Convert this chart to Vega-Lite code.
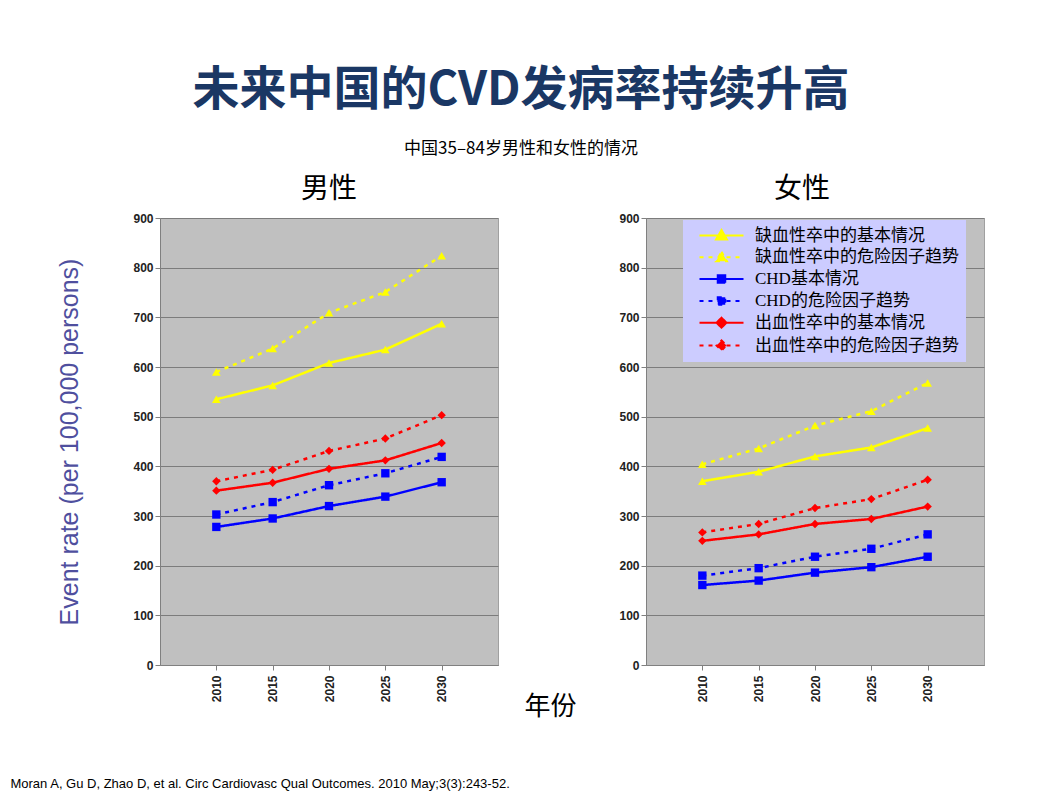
{
  "$schema": "https://vega.github.io/schema/vega-lite/v6.json",
  "background": "white",
  "padding": {"left": 10, "top": 66, "right": 10, "bottom": 2},
  "title": {
    "text": "Moran A, Gu D, Zhao D, et al. Circ Cardiovasc Qual Outcomes. 2010 May;3(3):243-52.",
    "orient": "bottom",
    "anchor": "start",
    "dx": -47,
    "offset": 58,
    "font": "Liberation Sans",
    "fontSize": 13,
    "fontWeight": "normal",
    "color": "#000"
  },
  "datasets": {
    "cvd": [
      {"sex": "男性", "series": "缺血性卒中的基本情况", "year": "2010", "value": 535},
      {"sex": "男性", "series": "缺血性卒中的基本情况", "year": "2015", "value": 563},
      {"sex": "男性", "series": "缺血性卒中的基本情况", "year": "2020", "value": 608},
      {"sex": "男性", "series": "缺血性卒中的基本情况", "year": "2025", "value": 635},
      {"sex": "男性", "series": "缺血性卒中的基本情况", "year": "2030", "value": 687},
      {"sex": "男性", "series": "缺血性卒中的危险因子趋势", "year": "2010", "value": 590},
      {"sex": "男性", "series": "缺血性卒中的危险因子趋势", "year": "2015", "value": 637},
      {"sex": "男性", "series": "缺血性卒中的危险因子趋势", "year": "2020", "value": 709},
      {"sex": "男性", "series": "缺血性卒中的危险因子趋势", "year": "2025", "value": 751},
      {"sex": "男性", "series": "缺血性卒中的危险因子趋势", "year": "2030", "value": 824},
      {"sex": "男性", "series": "CHD基本情况", "year": "2010", "value": 278},
      {"sex": "男性", "series": "CHD基本情况", "year": "2015", "value": 295},
      {"sex": "男性", "series": "CHD基本情况", "year": "2020", "value": 320},
      {"sex": "男性", "series": "CHD基本情况", "year": "2025", "value": 339},
      {"sex": "男性", "series": "CHD基本情况", "year": "2030", "value": 368},
      {"sex": "男性", "series": "CHD的危险因子趋势", "year": "2010", "value": 303},
      {"sex": "男性", "series": "CHD的危险因子趋势", "year": "2015", "value": 328},
      {"sex": "男性", "series": "CHD的危险因子趋势", "year": "2020", "value": 362},
      {"sex": "男性", "series": "CHD的危险因子趋势", "year": "2025", "value": 386},
      {"sex": "男性", "series": "CHD的危险因子趋势", "year": "2030", "value": 419},
      {"sex": "男性", "series": "出血性卒中的基本情况", "year": "2010", "value": 351},
      {"sex": "男性", "series": "出血性卒中的基本情况", "year": "2015", "value": 367},
      {"sex": "男性", "series": "出血性卒中的基本情况", "year": "2020", "value": 395},
      {"sex": "男性", "series": "出血性卒中的基本情况", "year": "2025", "value": 412},
      {"sex": "男性", "series": "出血性卒中的基本情况", "year": "2030", "value": 447},
      {"sex": "男性", "series": "出血性卒中的危险因子趋势", "year": "2010", "value": 370},
      {"sex": "男性", "series": "出血性卒中的危险因子趋势", "year": "2015", "value": 393},
      {"sex": "男性", "series": "出血性卒中的危险因子趋势", "year": "2020", "value": 431},
      {"sex": "男性", "series": "出血性卒中的危险因子趋势", "year": "2025", "value": 456},
      {"sex": "男性", "series": "出血性卒中的危险因子趋势", "year": "2030", "value": 503},
      {"sex": "女性", "series": "缺血性卒中的基本情况", "year": "2010", "value": 370},
      {"sex": "女性", "series": "缺血性卒中的基本情况", "year": "2015", "value": 389},
      {"sex": "女性", "series": "缺血性卒中的基本情况", "year": "2020", "value": 420},
      {"sex": "女性", "series": "缺血性卒中的基本情况", "year": "2025", "value": 438},
      {"sex": "女性", "series": "缺血性卒中的基本情况", "year": "2030", "value": 477},
      {"sex": "女性", "series": "缺血性卒中的危险因子趋势", "year": "2010", "value": 404},
      {"sex": "女性", "series": "缺血性卒中的危险因子趋势", "year": "2015", "value": 436},
      {"sex": "女性", "series": "缺血性卒中的危险因子趋势", "year": "2020", "value": 482},
      {"sex": "女性", "series": "缺血性卒中的危险因子趋势", "year": "2025", "value": 511},
      {"sex": "女性", "series": "缺血性卒中的危险因子趋势", "year": "2030", "value": 568},
      {"sex": "女性", "series": "CHD基本情况", "year": "2010", "value": 161},
      {"sex": "女性", "series": "CHD基本情况", "year": "2015", "value": 170},
      {"sex": "女性", "series": "CHD基本情况", "year": "2020", "value": 186},
      {"sex": "女性", "series": "CHD基本情况", "year": "2025", "value": 197},
      {"sex": "女性", "series": "CHD基本情况", "year": "2030", "value": 218},
      {"sex": "女性", "series": "CHD的危险因子趋势", "year": "2010", "value": 180},
      {"sex": "女性", "series": "CHD的危险因子趋势", "year": "2015", "value": 195},
      {"sex": "女性", "series": "CHD的危险因子趋势", "year": "2020", "value": 218},
      {"sex": "女性", "series": "CHD的危险因子趋势", "year": "2025", "value": 234},
      {"sex": "女性", "series": "CHD的危险因子趋势", "year": "2030", "value": 263},
      {"sex": "女性", "series": "出血性卒中的基本情况", "year": "2010", "value": 250},
      {"sex": "女性", "series": "出血性卒中的基本情况", "year": "2015", "value": 263},
      {"sex": "女性", "series": "出血性卒中的基本情况", "year": "2020", "value": 284},
      {"sex": "女性", "series": "出血性卒中的基本情况", "year": "2025", "value": 294},
      {"sex": "女性", "series": "出血性卒中的基本情况", "year": "2030", "value": 319},
      {"sex": "女性", "series": "出血性卒中的危险因子趋势", "year": "2010", "value": 267},
      {"sex": "女性", "series": "出血性卒中的危险因子趋势", "year": "2015", "value": 284},
      {"sex": "女性", "series": "出血性卒中的危险因子趋势", "year": "2020", "value": 316},
      {"sex": "女性", "series": "出血性卒中的危险因子趋势", "year": "2025", "value": 334},
      {"sex": "女性", "series": "出血性卒中的危险因子趋势", "year": "2030", "value": 373}
    ]
  },
  "vconcat": [
    {
      "title": {
        "text": "未来中国的CVD发病率持续升高",
        "subtitle": "中国35–84岁男性和女性的情况",
        "anchor": "middle",
        "font": "Noto Sans CJK SC",
        "fontSize": 47,
        "fontWeight": "bold",
        "color": "#1a3764",
        "subtitleFont": "Noto Sans CJK SC",
        "subtitleFontSize": 17,
        "subtitleColor": "#000",
        "subtitlePadding": 26,
        "offset": 18
      },
      "bounds": "flush",
      "spacing": 148,
      "resolve": {"scale": {"color": "independent", "shape": "independent", "strokeDash": "independent"}},
      "hconcat": [
        {
          "width": 338,
          "height": 447,
          "title": {"text": "男性", "fontSize": 28, "font": "Noto Sans CJK SC", "fontWeight": "normal", "color": "#000", "offset": 8},
          "data": {"name": "cvd"},
          "transform": [{"filter": {"field": "sex", "equal": "男性"}}],
          "encoding": {
            "x": {
              "field": "year",
              "type": "ordinal",
              "scale": {"type": "point", "padding": 1},
              "axis": {
                "title": "年份",
                "titleX": 390,
                "titleY": 41,
                "titleAlign": "center",
                "titleBaseline": "middle",
                "titleFont": "Noto Sans CJK SC",
                "titleFontSize": 26,
                "titleFontWeight": "normal",
                "titleColor": "#000",
                "labelAngle": -90
              }
            },
            "y": {
              "field": "value",
              "type": "quantitative",
              "scale": {"domain": [0, 900]},
              "axis": {
                "values": [0, 100, 200, 300, 400, 500, 600, 700, 800, 900],
                "title": "Event rate (per 100,000 persons)",
                "titleFont": "Liberation Sans",
                "titleFontSize": 25,
                "titleFontWeight": "normal",
                "titleColor": "#4f4f9e",
                "titlePadding": 50
              }
            },
            "color": {
              "field": "series",
              "type": "nominal",
              "scale": {
                "domain": ["缺血性卒中的基本情况", "缺血性卒中的危险因子趋势", "CHD基本情况", "CHD的危险因子趋势", "出血性卒中的基本情况", "出血性卒中的危险因子趋势"],
                "range": ["#ffff00", "#ffff00", "#0000ff", "#0000ff", "#ff0000", "#ff0000"]
              },
              "legend": null
            }
          },
          "layer": [
            {
              "mark": {"type": "line", "strokeWidth": 2.5},
              "encoding": {
                "strokeDash": {
                  "field": "series",
                  "type": "nominal",
                  "scale": {
                    "domain": ["缺血性卒中的基本情况", "缺血性卒中的危险因子趋势", "CHD基本情况", "CHD的危险因子趋势", "出血性卒中的基本情况", "出血性卒中的危险因子趋势"],
                    "range": [[1, 0], [4, 5], [1, 0], [4, 5], [1, 0], [4, 5]]
                  },
                  "legend": null
                }
              }
            },
            {
              "transform": [{"filter": {"field": "series", "oneOf": ["缺血性卒中的基本情况", "缺血性卒中的危险因子趋势"]}}],
              "mark": {"type": "point", "shape": "triangle-up", "filled": true, "size": 75, "opacity": 1}
            },
            {
              "transform": [{"filter": {"field": "series", "oneOf": ["CHD基本情况", "CHD的危险因子趋势"]}}],
              "mark": {"type": "point", "shape": "square", "filled": true, "size": 70, "opacity": 1}
            },
            {
              "transform": [{"filter": {"field": "series", "oneOf": ["出血性卒中的基本情况", "出血性卒中的危险因子趋势"]}}],
              "mark": {"type": "point", "shape": "diamond", "filled": true, "size": 70, "opacity": 1}
            }
          ]
        },
        {
          "width": 338,
          "height": 447,
          "title": {"text": "女性", "fontSize": 28, "font": "Noto Sans CJK SC", "fontWeight": "normal", "color": "#000", "offset": 8, "dx": -13},
          "data": {"name": "cvd"},
          "transform": [{"filter": {"field": "sex", "equal": "女性"}}],
          "encoding": {
            "x": {
              "field": "year",
              "type": "ordinal",
              "scale": {"type": "point", "padding": 1},
              "axis": {"title": null, "labelAngle": -90}
            },
            "y": {
              "field": "value",
              "type": "quantitative",
              "scale": {"domain": [0, 900]},
              "axis": {"values": [0, 100, 200, 300, 400, 500, 600, 700, 800, 900], "title": null}
            },
            "color": {
              "field": "series",
              "type": "nominal",
              "scale": {
                "domain": ["缺血性卒中的基本情况", "缺血性卒中的危险因子趋势", "CHD基本情况", "CHD的危险因子趋势", "出血性卒中的基本情况", "出血性卒中的危险因子趋势"],
                "range": ["#ffff00", "#ffff00", "#0000ff", "#0000ff", "#ff0000", "#ff0000"]
              },
              "legend": {
                "orient": "none",
                "legendX": 37,
                "legendY": 2,
                "title": null,
                "fillColor": "#ccccff",
                "padding": 7,
                "labelFont": "Liberation Serif, Noto Sans CJK SC",
                "labelFontSize": 17,
                "labelColor": "#000",
                "labelLimit": 320,
                "labelOffset": 25,
                "symbolSize": 100,
                "symbolOffset": 23,
                "symbolStrokeWidth": 2,
                "rowPadding": 3.8,
                "encode": {
                  "symbols": {
                    "update": {
                      "shape": {"signal": "(datum.value === 'CHD基本情况' || datum.value === 'CHD的危险因子趋势') ? 'M-4.4,0H4.4M-0.75,-0.75H0.75V0.75H-0.75Z' : (datum.value === '出血性卒中的基本情况' || datum.value === '出血性卒中的危险因子趋势') ? 'M-4.4,0H4.4M0,-1L1,0L0,1L-1,0Z' : 'M-4.4,0H4.4M0,-1.1L1.1,0.8H-1.1Z'"},
                      "strokeDash": {"signal": "(datum.value === '缺血性卒中的危险因子趋势' || datum.value === 'CHD的危险因子趋势' || datum.value === '出血性卒中的危险因子趋势') ? [3, 4] : [1, 0]"},
                      "fill": {"signal": "(datum.value === 'CHD基本情况' || datum.value === 'CHD的危险因子趋势') ? '#0000ff' : (datum.value === '出血性卒中的基本情况' || datum.value === '出血性卒中的危险因子趋势') ? '#ff0000' : '#ffff00'"},
                      "stroke": {"signal": "(datum.value === 'CHD基本情况' || datum.value === 'CHD的危险因子趋势') ? '#0000ff' : (datum.value === '出血性卒中的基本情况' || datum.value === '出血性卒中的危险因子趋势') ? '#ff0000' : '#ffff00'"},
                      "strokeWidth": {"value": 2},
                      "opacity": {"value": 1}
                    }
                  }
                }
              }
            }
          },
          "layer": [
            {
              "mark": {"type": "line", "strokeWidth": 2.5},
              "encoding": {
                "strokeDash": {
                  "field": "series",
                  "type": "nominal",
                  "scale": {
                    "domain": ["缺血性卒中的基本情况", "缺血性卒中的危险因子趋势", "CHD基本情况", "CHD的危险因子趋势", "出血性卒中的基本情况", "出血性卒中的危险因子趋势"],
                    "range": [[1, 0], [4, 5], [1, 0], [4, 5], [1, 0], [4, 5]]
                  },
                  "legend": null
                }
              }
            },
            {
              "transform": [{"filter": {"field": "series", "oneOf": ["缺血性卒中的基本情况", "缺血性卒中的危险因子趋势"]}}],
              "mark": {"type": "point", "shape": "triangle-up", "filled": true, "size": 75, "opacity": 1}
            },
            {
              "transform": [{"filter": {"field": "series", "oneOf": ["CHD基本情况", "CHD的危险因子趋势"]}}],
              "mark": {"type": "point", "shape": "square", "filled": true, "size": 70, "opacity": 1}
            },
            {
              "transform": [{"filter": {"field": "series", "oneOf": ["出血性卒中的基本情况", "出血性卒中的危险因子趋势"]}}],
              "mark": {"type": "point", "shape": "diamond", "filled": true, "size": 70, "opacity": 1}
            }
          ]
        }
      ]
    }
  ],
  "config": {
    "view": {"fill": "#c0c0c0", "stroke": "#a0a0a0"},
    "axis": {
      "labelFont": "Liberation Sans",
      "labelFontSize": 12,
      "labelFontWeight": "bold",
      "labelColor": "#222",
      "domainColor": "#808080",
      "tickColor": "#808080",
      "gridColor": "#7c7c7c",
      "tickSize": 5
    },
    "axisX": {"grid": false, "labelPadding": 5}
  }
}
